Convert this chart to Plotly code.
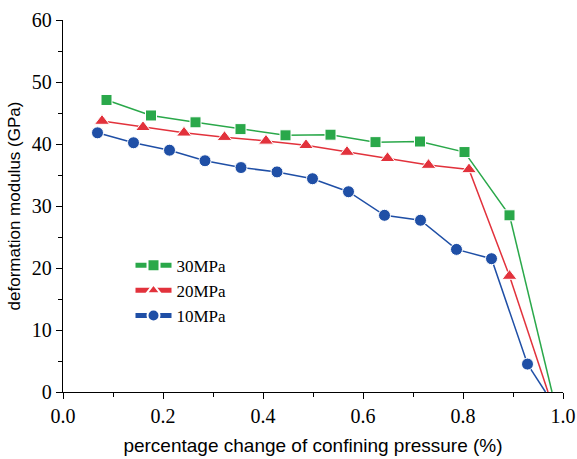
import plotly.graph_objects as go

# Data
x30 = [0.087, 0.176, 0.265, 0.355, 0.445, 0.535, 0.625, 0.714, 0.803, 0.893]
y30 = [47.1, 44.6, 43.5, 42.4, 41.4, 41.5, 40.3, 40.4, 38.7, 28.5]
x20 = [0.078, 0.160, 0.242, 0.323, 0.406, 0.486, 0.568, 0.649, 0.731, 0.812, 0.893]
y20 = [43.7, 42.7, 41.8, 41.1, 40.5, 39.8, 38.7, 37.7, 36.6, 35.9, 18.7]
x10 = [0.069, 0.141, 0.213, 0.284, 0.356, 0.428, 0.499, 0.571, 0.643, 0.715, 0.787, 0.857, 0.929]
y10 = [41.8, 40.2, 39.0, 37.3, 36.2, 35.5, 34.4, 32.3, 28.5, 27.7, 23.0, 21.5, 4.5]
# end points where each curve reaches zero (no marker)
end30 = (0.978, 0.0)
end20 = (0.970, 0.0)
end10 = (0.965, 0.0)

names = ["30MPa", "20MPa", "10MPa"]
colors = ["#2aa84a", "#e2323c", "#1f4fa6"]
symbols = ["square", "triangle-up", "circle"]
sizes = [11, 13, 12]
series = [(x30, y30, end30), (x20, y20, end20), (x10, y10, end10)]

fig = go.Figure()
for (xs, ys, end), name, c, s, sz in zip(series, names, colors, symbols, sizes):
    # final segment to zero without marker
    fig.add_trace(go.Scatter(x=[xs[-1], end[0]], y=[ys[-1], end[1]], mode="lines",
                             line=dict(color=c, width=1.5), showlegend=False,
                             hoverinfo="skip"))
    fig.add_trace(go.Scatter(x=xs, y=ys, mode="lines+markers", name=name,
                             line=dict(color=c, width=1.5),
                             marker=dict(symbol=s, size=sz,
                                         color=c, line=dict(color="white", width=1))))

serif = "Liberation Serif"
sans = "Liberation Sans"
axis_common = dict(showline=True, linecolor="black", linewidth=1.3, ticks="outside",
                   ticklen=6, tickwidth=1.3, tickcolor="black", showgrid=False,
                   zeroline=False, mirror=False, automargin=False,
                   tickfont=dict(family=serif, size=20, color="black"))

fig.update_xaxes(range=[0, 1.0], dtick=0.2, tickformat=".1f",
                 minor=dict(dtick=0.1, ticks="outside", ticklen=4, tickcolor="black", tickwidth=1.3),
                 title=dict(text="percentage change of confining pressure (%)",
                            font=dict(family=sans, size=19, color="black"),
                            standoff=12),
                 **axis_common)
fig.update_yaxes(range=[0, 60], dtick=10,
                 minor=dict(dtick=5, ticks="outside", ticklen=4, tickcolor="black", tickwidth=1.3),
                 title=dict(text="deformation modulus (GPa)",
                            font=dict(family=sans, size=17, color="black"),
                            standoff=6),
                 **axis_common)

fig.update_layout(
    width=577, height=459,
    font=dict(family=serif, color="black"),
    margin=dict(l=63, r=14, t=20, b=67),
    plot_bgcolor="white", paper_bgcolor="white",
    legend=dict(x=0.135, y=0.388, xanchor="left", yanchor="top",
                bgcolor="rgba(0,0,0,0)", itemwidth=36,
                font=dict(family=serif, size=17, color="black"),
                tracegroupgap=0, itemsizing="constant"),
)

fig.write_html("out.html")
